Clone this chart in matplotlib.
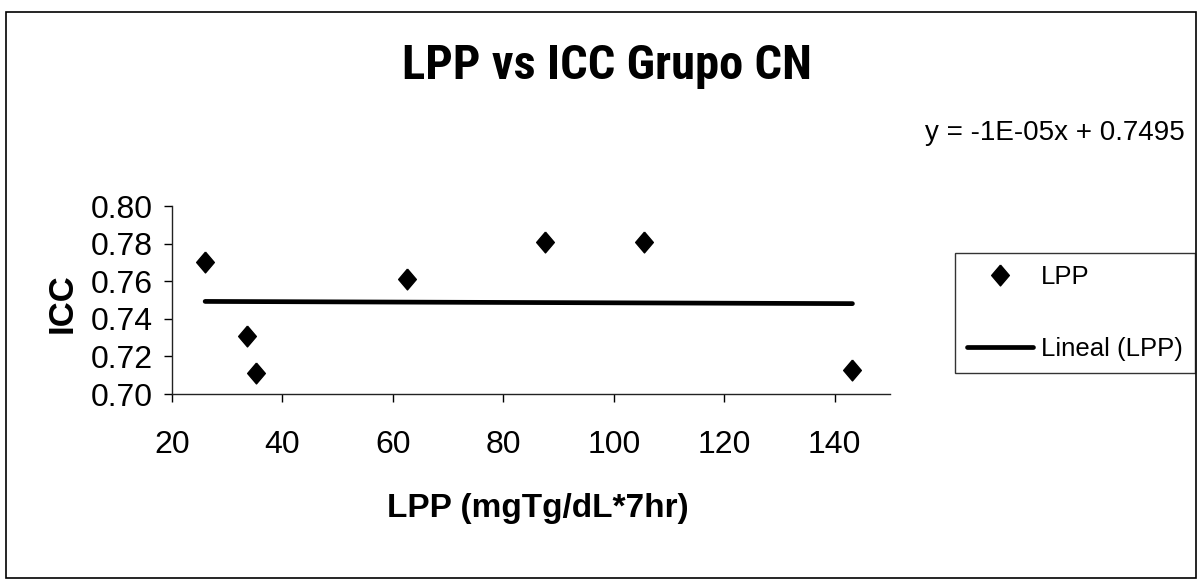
import matplotlib
matplotlib.use("Agg")
import matplotlib.pyplot as plt
from matplotlib import font_manager
from matplotlib.patches import Rectangle
import numpy as np

# Data
lpp = [26.0, 33.5, 35.2, 62.5, 87.6, 105.5, 143.2]
icc = [0.770, 0.731, 0.711, 0.761, 0.781, 0.781, 0.713]
trend_slope = -1e-05
trend_intercept = 0.7495
x_ticks = [20, 40, 60, 80, 100, 120, 140]
y_ticks = [0.70, 0.72, 0.74, 0.76, 0.78, 0.80]
title = "LPP vs ICC Grupo CN"
x_label = "LPP (mgTg/dL*7hr)"
y_label = "ICC"
equation = "y = -1E-05x + 0.7495"
legend_labels = ["LPP", "Lineal (LPP)"]

names = {f.name for f in font_manager.fontManager.ttflist}
narrow = None
for cand in ["Liberation Sans Narrow", "Arial Narrow", "Roboto Condensed",
             "Open Sans Condensed"]:
    if cand in names:
        narrow = cand
        break
plt.rcParams["font.family"] = ["Liberation Sans", "DejaVu Sans"]

W, H = 1201, 584
fig = plt.figure(figsize=(W / 100, H / 100), dpi=100)
fig.patch.set_facecolor("white")

ax = fig.add_axes([172 / W, 1 - 394 / H, (890 - 172) / W, (394 - 206) / H])
ax.set_xlim(20, 150)
ax.set_ylim(0.70, 0.80)

diamond = [(0, 1), (0.85, 0), (0, -1), (-0.85, 0), (0, 1)]
sc, = ax.plot(lpp, icc, linestyle="none", marker=diamond, markersize=15,
              color="black", label=legend_labels[0])
xt = np.array([min(lpp), max(lpp)])
ln, = ax.plot(xt, trend_slope * xt + trend_intercept, color="black", lw=3.4,
              solid_capstyle="round", label=legend_labels[1])

for s in ["top", "right"]:
    ax.spines[s].set_visible(False)
for s in ["left", "bottom"]:
    ax.spines[s].set_linewidth(1.0)
    ax.spines[s].set_color("#222222")

ax.set_xticks(x_ticks)
ax.set_xticklabels([str(v) for v in x_ticks])
ax.set_yticks(y_ticks)
ax.set_yticklabels([f"{v:.2f}" for v in y_ticks])
ax.tick_params(axis="x", direction="out", length=6, width=1, pad=20, labelsize=23)
ax.tick_params(axis="y", direction="out", length=6, width=1, pad=8, labelsize=23)

if narrow:
    tfam, tsize = [narrow, "Liberation Sans"], 35
else:
    tfam, tsize = ["Liberation Sans"], 29
fig.text(607 / W, 1 - 66 / H, title, ha="center", va="center",
         fontsize=tsize, fontweight="bold", family=tfam)
fig.text(538 / W, 1 - 508 / H, x_label, ha="center", va="center",
         fontsize=24, fontweight="bold")
fig.text(62 / W, 1 - 303 / H, y_label, ha="center", va="center",
         fontsize=25, fontweight="bold", rotation=90)
fig.text(925 / W, 1 - 140 / H, equation, ha="left", va="baseline", fontsize=20)

leg = fig.legend(handles=[sc, ln], labels=legend_labels, loc="upper left",
                 bbox_to_anchor=(955 / W, 1 - 377 / H, 240 / W, 124 / H),
                 bbox_transform=fig.transFigure, mode="expand", borderaxespad=0,
                 fontsize=18.5, frameon=True, fancybox=False, handlelength=2.6,
                 labelspacing=1.9, handletextpad=0.3, borderpad=0.45)
leg.get_frame().set_edgecolor("black")
leg.get_frame().set_linewidth(1.0)

fig.add_artist(Rectangle((6 / W, 1 - 578 / H), 1190 / W, 566 / H,
                         transform=fig.transFigure, fill=False,
                         edgecolor="black", lw=1.2))

fig.savefig("out.png", dpi=100)
